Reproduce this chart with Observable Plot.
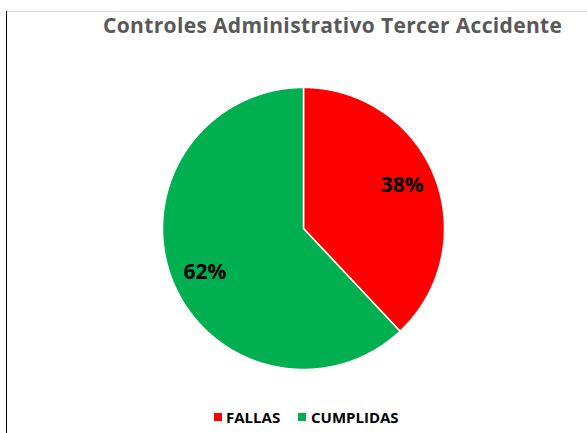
<!DOCTYPE html>
<html>
<head>
<meta charset="utf-8">
<script src="https://cdn.jsdelivr.net/npm/d3@7"></script>
<script src="https://cdn.jsdelivr.net/npm/@observablehq/plot@0.6"></script>
<style>
  html, body { margin: 0; padding: 0; background: #fff; }
  #frame { position: relative; width: 587px; height: 433px; overflow: hidden; background: #fff; }
  #leftline { position: absolute; left: 6px; top: 11px; width: 1px; height: 422px; background: #000; }
  #topline { position: absolute; left: 7px; top: 11px; width: 580px; height: 1px; background: #d9d9d9; }
  #title { position: absolute; left: 103px; top: 13px; white-space: nowrap; line-height: 1.2;
           font-family: "Open Sans", sans-serif; font-weight: 700; font-size: 21px; color: #595959; }
  #chart { position: absolute; left: 0; top: 0; }
  #legend { position: absolute; top: 408px; left: 0; width: 100%; height: 20px;
            font-family: "Open Sans", sans-serif; font-weight: 700; font-size: 15px; color: #000; }
  .sw { position: absolute; top: 5px; width: 8px; height: 8px; }
  .tx { position: absolute; top: -1px; white-space: nowrap; line-height: 20px; }
</style>
</head>
<body>
<div id="frame">
  <div id="chart"></div>
  <div id="leftline"></div>
  <div id="topline"></div>
  <div id="title">Controles Administrativo Tercer Accidente</div>
  <div id="legend"></div>
</div>
<script>
const categories = ["FALLAS", "CUMPLIDAS"];
const values = [38, 62];
const labels = ["38%", "62%"];
const colors = ["#FF0000", "#00B050"];

const W = 587, H = 433;
const cx = 303, cy = 228, R = 141;

// stretch title to the reference width
const title = document.getElementById("title");
const tw = title.getBoundingClientRect().width;
const n = title.textContent.length;
title.style.letterSpacing = ((459 - tw) / (n - 1)) + "px";

// pie layout (clockwise from 12 o'clock, unsorted)
const pie = d3.pie().sort(null).value(d => d.value)(categories.map((c, i) => ({cat: c, value: values[i], label: labels[i]})));

const pts = [];
for (const a of pie) {
  const m = Math.max(2, Math.ceil((a.endAngle - a.startAngle) / 0.01));
  pts.push({cat: a.data.cat, x: 0, y: 0});
  for (let k = 0; k <= m; k++) {
    const t = a.startAngle + (a.endAngle - a.startAngle) * k / m;
    pts.push({cat: a.data.cat, x: Math.sin(t), y: Math.cos(t)});
  }
  pts.push({cat: a.data.cat, x: 0, y: 0});
}
const lab = pie.map(a => {
  const m = (a.startAngle + a.endAngle) / 2 - 0.04;
  return {label: a.data.label, x: 0.765 * Math.sin(m), y: 0.765 * Math.cos(m)};
});

const chart = Plot.plot({
  width: W, height: H,
  margin: 0,
  x: {domain: [-cx / R, (W - cx) / R], axis: null},
  y: {domain: [-(H - cy) / R, cy / R], axis: null},
  color: {domain: categories, range: colors},
  marks: [
    Plot.line(pts, {x: "x", y: "y", z: "cat", fill: "cat", stroke: "white", strokeWidth: 1.5, curve: "linear"}),
    Plot.text(lab, {x: "x", y: "y", text: "label", fill: "#000", fontSize: 21, fontWeight: 700,
                    fontFamily: "Open Sans, sans-serif"})
  ]
});
document.getElementById("chart").appendChild(chart);

// legend from the plot's color scale
const cs = chart.scale("color");
const legend = document.getElementById("legend");
const swLeft = [214, 298], txLeft = [226, 311];
categories.forEach((c, i) => {
  const sw = document.createElement("div");
  sw.className = "sw";
  sw.style.left = swLeft[i] + "px";
  sw.style.background = cs.range[cs.domain.indexOf(c)];
  const tx = document.createElement("div");
  tx.className = "tx";
  tx.style.left = txLeft[i] + "px";
  tx.textContent = c;
  legend.appendChild(sw); legend.appendChild(tx);
});
</script>
</body>
</html>
